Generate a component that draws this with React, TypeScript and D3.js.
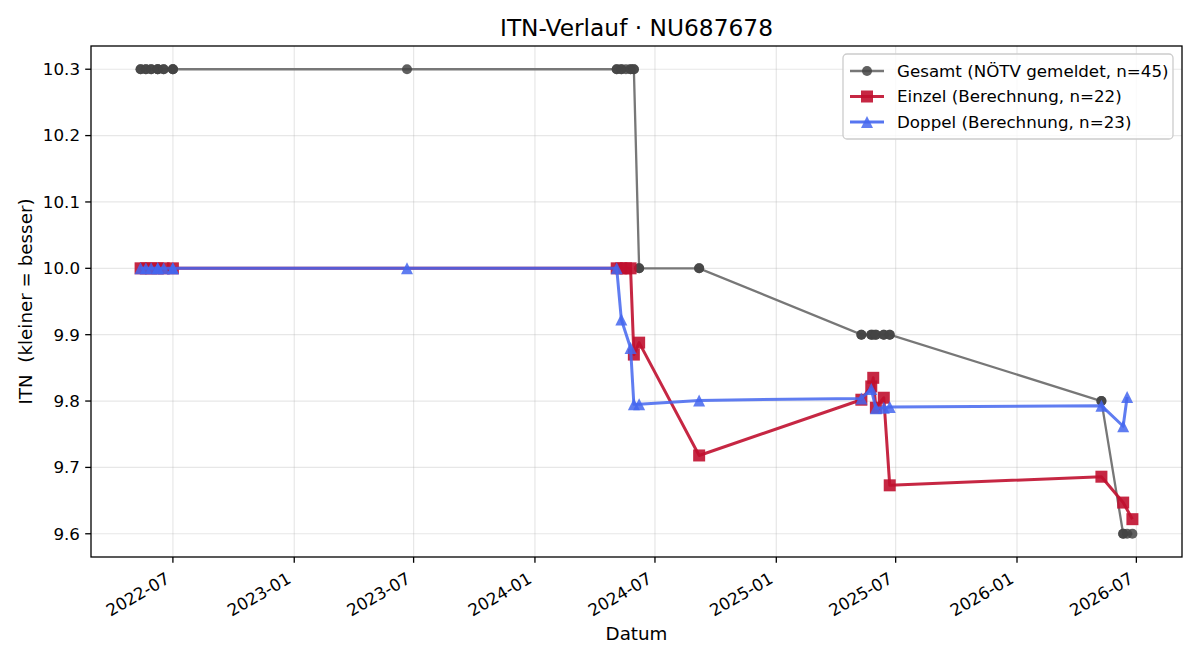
import React from "react";
import * as d3 from "d3";

// Einzelne Spiele: Datum, Art (E = Einzel, D = Doppel), gemeldeter Gesamt-ITN, berechneter ITN
const matchDates = [
  "2022-05-13", "2022-05-13", "2022-05-21", "2022-05-21", "2022-05-29", "2022-05-29",
  "2022-06-08", "2022-06-08", "2022-06-08", "2022-06-17", "2022-06-17",
  "2022-07-01", "2022-07-01", "2022-07-01",
  "2023-06-21",
  "2024-05-04", "2024-05-04", "2024-05-11", "2024-05-11", "2024-05-18",
  "2024-05-25", "2024-05-25", "2024-05-30", "2024-05-30", "2024-06-07", "2024-06-07",
  "2024-09-06", "2024-09-06",
  "2025-05-10", "2025-05-10", "2025-05-25", "2025-05-25", "2025-05-28",
  "2025-06-01", "2025-06-01", "2025-06-13", "2025-06-13", "2025-06-22", "2025-06-22",
  "2026-05-09", "2026-05-09", "2026-06-11", "2026-06-11", "2026-06-17", "2026-06-25",
];
const matchTypes = [
  "E", "D", "E", "D", "E", "D",
  "E", "D", "D", "E", "D",
  "E", "D", "D",
  "D",
  "E", "D", "E", "D", "E",
  "E", "D", "E", "D", "E", "D",
  "E", "D",
  "E", "D", "E", "D", "E",
  "E", "D", "E", "D", "E", "D",
  "E", "D", "E", "D", "D", "E",
];
const gesamtITN = [
  10.3, 10.3, 10.3, 10.3, 10.3, 10.3,
  10.3, 10.3, 10.3, 10.3, 10.3,
  10.3, 10.3, 10.3,
  10.3,
  10.3, 10.3, 10.3, 10.3, 10.3,
  10.3, 10.3, 10.3, 10.3, 10.0, 10.0,
  10.0, 10.0,
  9.9, 9.9, 9.9, 9.9, 9.9,
  9.9, 9.9, 9.9, 9.9, 9.9, 9.9,
  9.8, 9.8, 9.6, 9.6, 9.6, 9.6,
];
const matchITN = [
  10.0, 10.0, 10.0, 10.0, 10.0, 10.0,
  10.0, 10.0, 10.0, 10.0, 10.0,
  10.0, 10.0, 10.0,
  10.0,
  10.0, 10.0, 10.0, 9.923, 10.0,
  10.0, 9.88, 9.87, 9.795, 9.888, 9.795,
  9.718, 9.801,
  9.802, 9.804, 9.822, 9.818, 9.835,
  9.79, 9.789, 9.805, 9.79, 9.673, 9.791,
  9.686, 9.793, 9.647, 9.762, 9.806, 9.622,
];

const yTicks = [9.6, 9.7, 9.8, 9.9, 10.0, 10.1, 10.2, 10.3];
const xTickLabels = [
  "2022-07", "2023-01", "2023-07", "2024-01", "2024-07",
  "2025-01", "2025-07", "2026-01", "2026-07",
];

const W = 1200;
const H = 660;
const plot = { left: 91, top: 46, right: 1182, bottom: 557 };
const FONT = "DejaVu Sans, sans-serif";

const GRAY_LINE = "#777777";
const GRAY_MARK = "#444444";
const RED = "#c0102f";
const BLUE = "#4466ee";

const parseDay = d3.timeParse("%Y-%m-%d");
const parseMonth = d3.timeParse("%Y-%m");

type Pt = { date: Date; v: number };

const allDates = matchDates.map((d) => parseDay(d) as Date);
const gesamt: Pt[] = allDates.map((date, i) => ({ date, v: gesamtITN[i] }));
const einzel: Pt[] = allDates
  .map((date, i) => ({ date, v: matchITN[i], t: matchTypes[i] }))
  .filter((d) => d.t === "E");
const doppel: Pt[] = allDates
  .map((date, i) => ({ date, v: matchITN[i], t: matchTypes[i] }))
  .filter((d) => d.t === "D");

// matplotlib-artige Ränder: 5 % Luft auf beiden Achsen
const [t0, t1] = d3.extent(allDates) as [Date, Date];
const tPad = (t1.getTime() - t0.getTime()) * 0.05;
const x = d3
  .scaleTime()
  .domain([new Date(t0.getTime() - tPad), new Date(t1.getTime() + tPad)])
  .range([plot.left, plot.right]);

const vals = [...gesamtITN, ...matchITN];
const [v0, v1] = d3.extent(vals) as [number, number];
const vPad = (v1 - v0) * 0.05;
const y = d3
  .scaleLinear()
  .domain([v0 - vPad, v1 + vPad])
  .range([plot.bottom, plot.top]);

const lineGen = d3
  .line<Pt>()
  .x((d) => x(d.date))
  .y((d) => y(d.v));

const square = (cx: number, cy: number, s = 12) =>
  `M${cx - s / 2},${cy - s / 2}h${s}v${s}h${-s}Z`;
const triangle = (cx: number, cy: number, s = 12) =>
  `M${cx},${cy - s / 2}L${cx + s / 2},${cy + s / 2}L${cx - s / 2},${cy + s / 2}Z`;

const xTicks = xTickLabels.map((l) => ({ label: l, date: parseMonth(l) as Date }));

const legendItems = [
  { label: `Gesamt (NÖTV gemeldet, n=${gesamt.length})`, kind: "circle" },
  { label: `Einzel (Berechnung, n=${einzel.length})`, kind: "square" },
  { label: `Doppel (Berechnung, n=${doppel.length})`, kind: "triangle" },
];

function Marker({ kind, cx, cy }: { kind: string; cx: number; cy: number }) {
  if (kind === "circle") return <circle cx={cx} cy={cy} r={5} fill={GRAY_MARK} opacity={0.85} />;
  if (kind === "square") return <path d={square(cx, cy)} fill={RED} opacity={0.9} />;
  return <path d={triangle(cx, cy)} fill={BLUE} opacity={0.85} />;
}

export default function App() {
  const legend = { x: 843, y: 54, w: 330, h: 85 };
  return (
    <svg
      width={W}
      height={H}
      viewBox={`0 0 ${W} ${H}`}
      style={{ position: "absolute", left: 0, top: 0, display: "block", background: "#fff" }}
      fontFamily={FONT}
    >
      <rect x={0} y={0} width={W} height={H} fill="#fff" />

      {/* Gitter */}
      <g stroke="#b0b0b0" strokeOpacity={0.3} strokeWidth={1.2}>
        {xTicks.map((t) => (
          <line key={t.label} x1={x(t.date)} x2={x(t.date)} y1={plot.top} y2={plot.bottom} />
        ))}
        {yTicks.map((v) => (
          <line key={v} x1={plot.left} x2={plot.right} y1={y(v)} y2={y(v)} />
        ))}
      </g>

      {/* Gesamt */}
      <path d={lineGen(gesamt) || ""} fill="none" stroke={GRAY_LINE} strokeWidth={2.3} />
      {gesamt.map((d, i) => (
        <Marker key={`g${i}`} kind="circle" cx={x(d.date)} cy={y(d.v)} />
      ))}

      {/* Einzel */}
      <path d={lineGen(einzel) || ""} fill="none" stroke={RED} strokeOpacity={0.9} strokeWidth={3} strokeLinejoin="round" />
      {einzel.map((d, i) => (
        <Marker key={`e${i}`} kind="square" cx={x(d.date)} cy={y(d.v)} />
      ))}

      {/* Doppel */}
      <path d={lineGen(doppel) || ""} fill="none" stroke={BLUE} strokeOpacity={0.85} strokeWidth={3} strokeLinejoin="round" />
      {doppel.map((d, i) => (
        <Marker key={`d${i}`} kind="triangle" cx={x(d.date)} cy={y(d.v)} />
      ))}

      {/* Achsenrahmen */}
      <rect
        x={plot.left}
        y={plot.top}
        width={plot.right - plot.left}
        height={plot.bottom - plot.top}
        fill="none"
        stroke="#000"
        strokeWidth={1.3}
      />

      {/* x-Achse */}
      <g fontSize={16.7} fill="#000">
        {xTicks.map((t) => {
          const px = x(t.date);
          return (
            <g key={t.label}>
              <line x1={px} x2={px} y1={plot.bottom} y2={plot.bottom + 5.8} stroke="#000" strokeWidth={1.3} />
              <text
                x={px - 2}
                y={plot.bottom + 25}
                textAnchor="end"
                transform={`rotate(-30, ${px - 2}, ${plot.bottom + 25})`}
              >
                {t.label}
              </text>
            </g>
          );
        })}
      </g>

      {/* y-Achse */}
      <g fontSize={16.7} fill="#000">
        {yTicks.map((v) => (
          <g key={v}>
            <line x1={plot.left - 5.8} x2={plot.left} y1={y(v)} y2={y(v)} stroke="#000" strokeWidth={1.3} />
            <text x={plot.left - 11} y={y(v)} dy="0.35em" textAnchor="end">
              {v.toFixed(1)}
            </text>
          </g>
        ))}
      </g>

      <text x={(plot.left + plot.right) / 2} y={640} textAnchor="middle" fontSize={18.3}>
        Datum
      </text>
      <text
        transform={`translate(32, ${(plot.top + plot.bottom) / 2}) rotate(-90)`}
        textAnchor="middle"
        fontSize={18.3}
        style={{ whiteSpace: "pre" }}
      >
        {"ITN  (kleiner = besser)"}
      </text>
      <text x={(plot.left + plot.right) / 2} y={36} textAnchor="middle" fontSize={23.3}>
        ITN-Verlauf · NU687678
      </text>

      {/* Legende */}
      <rect
        x={legend.x}
        y={legend.y}
        width={legend.w}
        height={legend.h}
        rx={4}
        fill="#fff"
        fillOpacity={0.8}
        stroke="#cccccc"
        strokeWidth={1.3}
      />
      {legendItems.map((it, i) => {
        const cy = 71 + i * 25.5;
        const color = it.kind === "circle" ? GRAY_LINE : it.kind === "square" ? RED : BLUE;
        return (
          <g key={it.label}>
            <line
              x1={850}
              x2={884}
              y1={cy}
              y2={cy}
              stroke={color}
              strokeWidth={it.kind === "circle" ? 2.3 : 3}
              strokeOpacity={it.kind === "circle" ? 1 : 0.9}
            />
            <Marker kind={it.kind} cx={867} cy={cy} />
            <text x={897} y={cy} dy="0.35em" fontSize={16.7}>
              {it.label}
            </text>
          </g>
        );
      })}
    </svg>
  );
}
